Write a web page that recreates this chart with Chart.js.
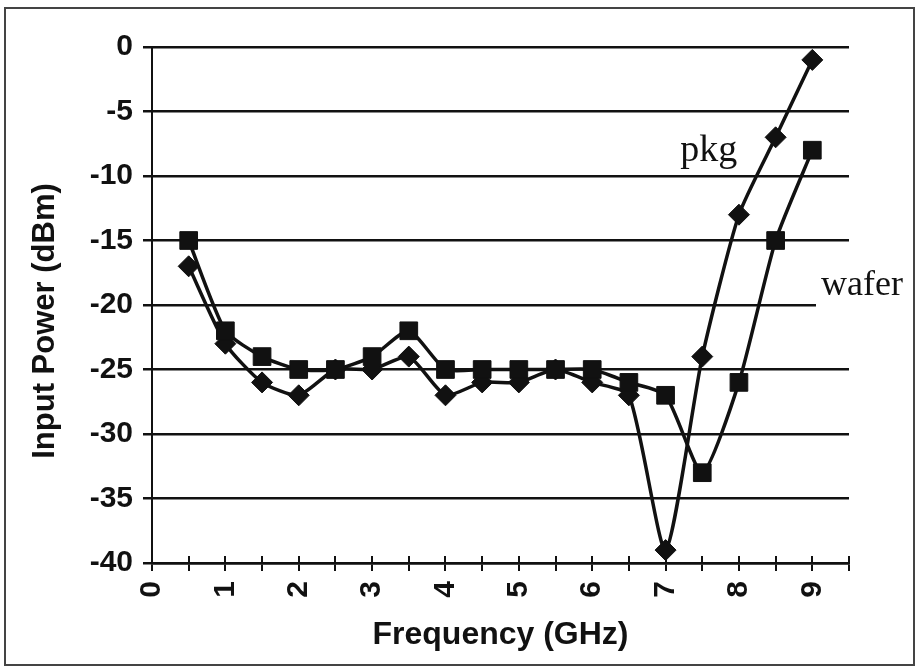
<!DOCTYPE html>
<html>
<head>
<meta charset="utf-8">
<script src="https://cdn.jsdelivr.net/npm/chart.js@4.4.1/dist/chart.umd.min.js"></script>
<style>
  html, body { margin: 0; padding: 0; background: #fff; }
  #wrap { width: 919px; height: 670px; }
</style>
</head>
<body>
<div id="wrap"><canvas id="powerChart" width="919" height="670"></canvas></div>
<script>
// values
const freqGHz    = [0.5, 1, 1.5, 2, 2.5, 3, 3.5, 4, 4.5, 5, 5.5, 6, 6.5, 7, 7.5, 8, 8.5, 9];
const pkgPower   = [-17, -23, -26, -27, -25, -25, -24, -27, -26, -26, -25, -26, -27, -39, -24, -13, -7, -1];
const waferPower = [-15, -22, -24, -25, -25, -24, -22, -25, -25, -25, -25, -25, -26, -27, -33, -26, -15, -8];
const xTickLabels = ['0', '1', '2', '3', '4', '5', '6', '7', '8', '9'];
const yTickValues = [0, -5, -10, -15, -20, -25, -30, -35, -40];

const SANS = '"Liberation Sans", Arial, sans-serif';
const SERIF = '"Liberation Serif", "Times New Roman", serif';
const INK = '#111';

function toPoints(ys) {
    return freqGHz.map((f, i) => ({ x: f, y: ys[i] }));
}

// frame, y title and the two series captions
const figureText = {
    id: 'figureText',
    beforeDraw(chart) {
        const ctx = chart.ctx;
        ctx.save();
        ctx.fillStyle = '#fff';
        ctx.fillRect(0, 0, chart.width, chart.height);
        ctx.strokeStyle = '#444';
        ctx.lineWidth = 2;
        ctx.strokeRect(5, 8, 909, 657);
        ctx.restore();
    },
    beforeDatasetsDraw(chart) {
        // tick stubs on the inner side of the x axis
        const ctx = chart.ctx;
        const xs = chart.scales.x;
        const bottom = chart.chartArea.bottom;
        ctx.save();
        ctx.strokeStyle = INK;
        ctx.lineWidth = 2;
        xs.ticks.forEach(t => {
            const px = Math.round(xs.getPixelForValue(t.value));
            ctx.beginPath();
            ctx.moveTo(px, bottom - 7);
            ctx.lineTo(px, bottom);
            ctx.stroke();
        });
        ctx.restore();
    },
    afterDraw(chart) {
        const ctx = chart.ctx;
        const xs = chart.scales.x;
        const ys = chart.scales.y;
        ctx.save();
        ctx.fillStyle = INK;
        ctx.font = 'bold 31px ' + SANS;
        ctx.textAlign = 'center';
        ctx.textBaseline = 'middle';
        ctx.translate(45, 321);
        ctx.rotate(-Math.PI / 2);
        ctx.fillText('Input Power (dBm)', 0, 0);
        ctx.restore();

        ctx.save();
        // "wafer" sits on a white box that cuts the -20 grid line
        ctx.fillStyle = '#fff';
        ctx.fillRect(816, ys.getPixelForValue(-20) - 4, chart.chartArea.right - 812, 8);
        ctx.fillStyle = INK;
        ctx.textAlign = 'left';
        ctx.textBaseline = 'alphabetic';
        ctx.font = '38px ' + SERIF;
        ctx.fillText('pkg', xs.getPixelForValue(7.2), ys.getPixelForValue(-8.8));
        ctx.font = '36px ' + SERIF;
        ctx.fillText('wafer', xs.getPixelForValue(9.12), ys.getPixelForValue(-19.2));
        ctx.restore();
    }
};

new Chart(document.getElementById('powerChart'), {
    type: 'line',
    data: {
        datasets: [
            {
                label: 'wafer',
                data: toPoints(waferPower),
                borderColor: INK,
                backgroundColor: INK,
                borderWidth: 3.5,
                pointStyle: 'rect',
                pointRadius: 12.5,
                pointBorderWidth: 1,
                tension: 0.2,
                fill: false
            },
            {
                label: 'pkg',
                data: toPoints(pkgPower),
                borderColor: INK,
                backgroundColor: INK,
                borderWidth: 3.5,
                pointStyle: 'rectRot',
                pointRadius: 10.5,
                pointBorderWidth: 1,
                tension: 0.2,
                fill: false
            }
        ]
    },
    options: {
        responsive: false,
        animation: false,
        layout: { padding: { left: 0, right: 70, top: 47, bottom: 0 } },
        plugins: {
            legend: { display: false },
            tooltip: { enabled: false }
        },
        scales: {
            x: {
                type: 'linear',
                min: 0,
                max: 9.5,
                afterFit: scale => { scale.height = 107; },
                afterBuildTicks: scale => {
                    const ticks = [];
                    for (let i = 0; i <= 19; i++) ticks.push({ value: i * 0.5 });
                    scale.ticks = ticks;
                },
                border: { display: true, color: INK, width: 2.5 },
                grid: {
                    drawOnChartArea: false,
                    drawTicks: true,
                    tickLength: 8,
                    color: INK,
                    lineWidth: 2
                },
                ticks: {
                    autoSkip: false,
                    minRotation: 90,
                    maxRotation: 90,
                    padding: 10,
                    color: INK,
                    font: { family: SANS, size: 30, weight: 'bold' },
                    callback: value => Number.isInteger(value) ? xTickLabels[value] : ''
                },
                title: {
                    display: true,
                    text: 'Frequency (GHz)',
                    color: INK,
                    font: { family: SANS, size: 32, weight: 'bold' },
                    padding: { top: 0, bottom: 16 }
                }
            },
            y: {
                min: -40,
                max: 0,
                afterFit: scale => { scale.width = 152; },
                afterBuildTicks: scale => {
                    scale.ticks = yTickValues.map(v => ({ value: v }));
                },
                border: { display: true, color: INK, width: 2 },
                grid: {
                    color: INK,
                    lineWidth: 2.5,
                    drawTicks: true,
                    tickLength: 9
                },
                ticks: {
                    padding: 10,
                    color: INK,
                    font: { family: SANS, size: 30, weight: 'bold' }
                }
            }
        }
    },
    plugins: [figureText]
});
</script>
</body>
</html>
